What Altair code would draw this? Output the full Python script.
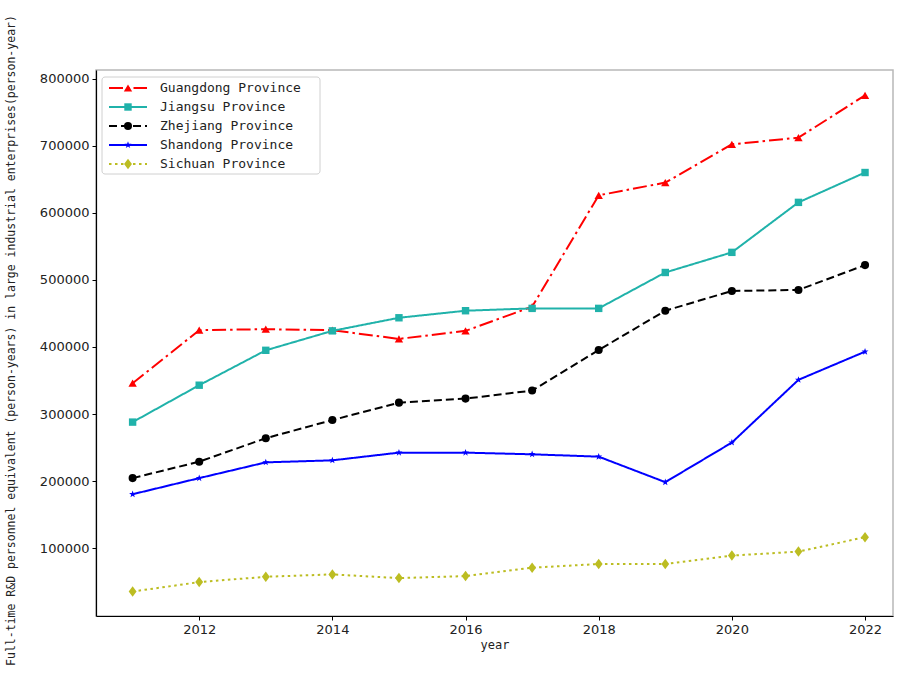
import altair as alt
import pandas as pd

# Full-time R&D personnel in large industrial enterprises, 2011-2022
years = list(range(2011, 2023))
provinces = [
    "Guangdong Province",
    "Jiangsu Province",
    "Zhejiang Province",
    "Shandong Province",
    "Sichuan Province",
]
guangdong = [346000, 425000, 426500, 425000, 412000, 424000, 460000, 626000, 645000, 702000, 712000, 775000]
jiangsu = [288000, 343000, 395000, 424000, 443500, 454000, 457500, 457500, 511000, 541000, 615500, 660000]
zhejiang = [204500, 229000, 264000, 291000, 317000, 323000, 335000, 395500, 454000, 483500, 485000, 522000]
shandong = [180500, 204500, 228000, 231000, 242500, 242500, 240000, 236500, 198500, 257500, 351000, 393000]
sichuan = [35500, 49500, 57500, 61000, 55500, 58500, 71000, 76500, 76500, 89000, 95000, 116500]

series = [guangdong, jiangsu, zhejiang, shandong, sichuan]
colors = ["#ff0000", "#20b2aa", "#000000", "#0000ff", "#bcbd22"]
dashes = [[14, 4, 2.5, 4], [1, 0], [8, 4], [1, 0], [2.5, 3.5]]
star = "M0,-1L0.24,-0.32L0.95,-0.31L0.38,0.12L0.59,0.81L0,0.4L-0.59,0.81L-0.38,0.12L-0.95,-0.31L-0.24,-0.32Z"
diamond = "M0,-1L0.75,0L0,1L-0.75,0Z"
shapes = ["triangle-up", "square", "circle", star, diamond]
sizes = [70, 55, 65, 55, 110]

rows = []
for name, vals in zip(provinces, series):
    for y, v in zip(years, vals):
        rows.append({"year": y, "province": name, "value": v})
df = pd.DataFrame(rows)
legend_df = pd.DataFrame({"province": provinces, "slot": list(range(len(provinces)))})

color_sc = alt.Scale(domain=provinces, range=colors)
dash_sc = alt.Scale(domain=provinces, range=dashes)
shape_sc = alt.Scale(domain=provinces, range=shapes)
size_sc = alt.Scale(type="ordinal", domain=provinces, range=sizes)

W, H = 797, 546
mono = "DejaVu Sans Mono"

x_enc = alt.X(
    "year:Q",
    scale=alt.Scale(domain=[2010.45, 2022.42], nice=False, zero=False),
    axis=alt.Axis(
        values=list(range(2012, 2023, 2)), format="d", title="year",
        titleFont=mono, titleFontSize=12, titleFontWeight="normal", titleColor="#222",
        titlePadding=3,
    ),
)
y_enc = alt.Y(
    "value:Q",
    scale=alt.Scale(domain=[-1000, 812800], nice=False, zero=False),
    axis=alt.Axis(
        values=list(range(100000, 800001, 100000)), format="d",
        title="Full-time R&D personnel equivalent (person-years) in large industrial enterprises(person-year)",
        titleFont=mono, titleFontSize=11.5, titleFontWeight="normal", titleColor="#222",
        titleAngle=-90, titleX=-85, titleY=H / 2 - 3, titleAlign="center", titleBaseline="middle",
    ),
)

lines = alt.Chart(df).mark_line(strokeWidth=2).encode(
    x=x_enc,
    y=y_enc,
    color=alt.Color("province:N", scale=color_sc, legend=None),
    strokeDash=alt.StrokeDash("province:N", scale=dash_sc, legend=None),
    detail="province:N",
)
points = alt.Chart(df).mark_point(filled=True, opacity=1).encode(
    x="year:Q",
    y="value:Q",
    color=alt.Color("province:N", scale=color_sc, legend=None),
    shape=alt.Shape("province:N", scale=shape_sc, legend=None),
    size=alt.Size("province:N", scale=size_sc, legend=None),
)
main = alt.layer(lines, points)

# Legend box drawn in the upper-left corner of the plot
slot_y = alt.Y("slot:Q", scale=alt.Scale(domain=[0, 4], range=[18, 94]), axis=None)
box = alt.Chart(pd.DataFrame({"k": [0]})).mark_rect(
    fill="white", stroke="#d0d0d0", strokeWidth=1, cornerRadius=3
).encode(x=alt.value(6), x2=alt.value(224), y=alt.value(7), y2=alt.value(104))
leg_lines = alt.Chart(legend_df).mark_rule(strokeWidth=2).encode(
    x=alt.value(13), x2=alt.value(51), y=slot_y,
    color=alt.Color("province:N", scale=color_sc, legend=None),
    strokeDash=alt.StrokeDash("province:N", scale=dash_sc, legend=None),
)
leg_pts = alt.Chart(legend_df).mark_point(filled=True, opacity=1).encode(
    x=alt.value(32), y=slot_y,
    color=alt.Color("province:N", scale=color_sc, legend=None),
    shape=alt.Shape("province:N", scale=shape_sc, legend=None),
    size=alt.Size("province:N", scale=size_sc, legend=None),
)
leg_text = alt.Chart(legend_df).mark_text(
    align="left", baseline="middle", font=mono, fontSize=13, color="#222"
).encode(x=alt.value(64), y=slot_y, text="province:N")
legend = alt.layer(box, leg_lines, leg_pts, leg_text)

chart = (
    alt.layer(main, legend)
    .resolve_scale(y="independent")
    .properties(
        width=W,
        height=H,
        autosize=alt.AutoSizeParams(type="none"),
        padding={"left": 96, "top": 70, "right": 5, "bottom": 61},
        background="white",
    )
    .configure_view(stroke="#b8b8b8", strokeWidth=1.5)
    .configure_axis(
        grid=False,
        domainColor="black",
        domainWidth=1.2,
        tickColor="black",
        tickSize=4,
        labelFont="DejaVu Sans",
        labelFontSize=13,
        labelColor="#222",
        labelPadding=3,
    )
)

chart.save("out.html", embed_options={"renderer": "svg", "actions": False})
